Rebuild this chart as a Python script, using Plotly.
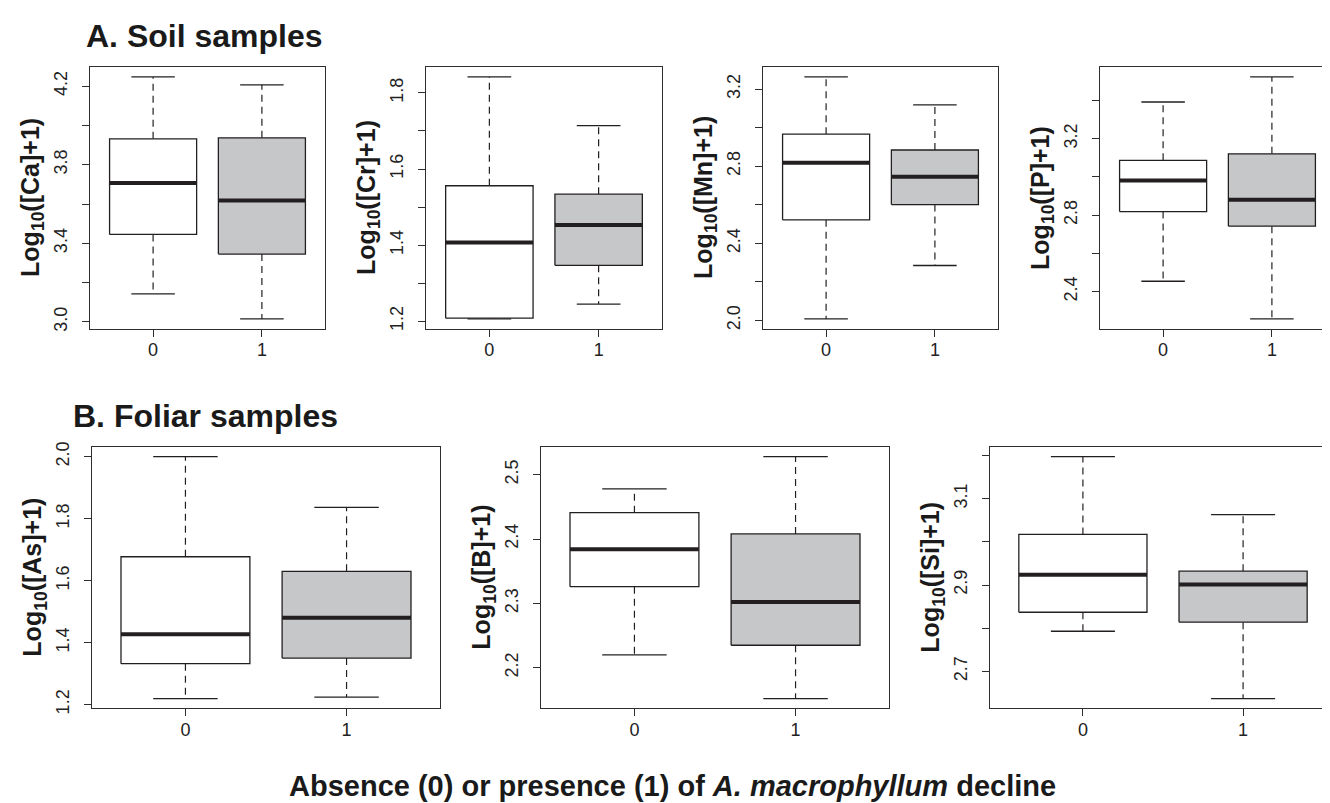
import plotly.graph_objects as go

# ---------------- data ----------------
groups = ["0", "1"]
elements = ["Ca", "Cr", "Mn", "P", "As", "B", "Si"]

# five-number summaries: [lower whisker, Q1, median, Q3, upper whisker]
ca_absent = [3.143, 3.445, 3.707, 3.932, 4.247]
ca_present = [3.015, 3.345, 3.618, 3.937, 4.207]
cr_absent = [1.206, 1.208, 1.407, 1.556, 1.842]
cr_present = [1.245, 1.347, 1.453, 1.534, 1.714]
mn_absent = [2.008, 2.522, 2.818, 2.966, 3.263]
mn_present = [2.285, 2.601, 2.745, 2.884, 3.118]
p_absent = [2.455, 2.819, 2.982, 3.087, 3.392]
p_present = [2.258, 2.743, 2.881, 3.121, 3.523]
as_absent = [1.219, 1.332, 1.427, 1.677, 2.000]
as_present = [1.224, 1.350, 1.480, 1.630, 1.836]
b_absent = [2.220, 2.326, 2.384, 2.441, 2.478]
b_present = [2.152, 2.235, 2.302, 2.408, 2.528]
si_absent = [2.793, 2.837, 2.924, 3.017, 3.197]
si_present = [2.637, 2.814, 2.901, 2.932, 3.063]

ca_ticks = [3.0, 3.2, 3.4, 3.6, 3.8, 4.0, 4.2]
ca_ticklabels = ["3.0", "", "3.4", "", "3.8", "", "4.2"]
cr_ticks = [1.2, 1.3, 1.4, 1.5, 1.6, 1.7, 1.8]
cr_ticklabels = ["1.2", "", "1.4", "", "1.6", "", "1.8"]
mn_ticks = [2.0, 2.2, 2.4, 2.6, 2.8, 3.0, 3.2]
mn_ticklabels = ["2.0", "", "2.4", "", "2.8", "", "3.2"]
p_ticks = [2.4, 2.6, 2.8, 3.0, 3.2, 3.4]
p_ticklabels = ["2.4", "", "2.8", "", "3.2", ""]
as_ticks = [1.2, 1.4, 1.6, 1.8, 2.0]
as_ticklabels = ["1.2", "1.4", "1.6", "1.8", "2.0"]
b_ticks = [2.2, 2.3, 2.4, 2.5]
b_ticklabels = ["2.2", "2.3", "2.4", "2.5"]
si_ticks = [2.7, 2.8, 2.9, 3.0, 3.1, 3.2]
si_ticklabels = ["2.7", "", "2.9", "", "3.1", ""]

section_titles = ["A. Soil samples", "B. Foliar samples"]
x_title = "Absence (0) or presence (1) of <i>A. macrophyllum</i> decline"

panel_stats = [
    (ca_absent, ca_present), (cr_absent, cr_present), (mn_absent, mn_present),
    (p_absent, p_present), (as_absent, as_present), (b_absent, b_present),
    (si_absent, si_present),
]
panel_ticks = [
    (ca_ticks, ca_ticklabels), (cr_ticks, cr_ticklabels), (mn_ticks, mn_ticklabels),
    (p_ticks, p_ticklabels), (as_ticks, as_ticklabels), (b_ticks, b_ticklabels),
    (si_ticks, si_ticklabels),
]

# ---------------- style / layout ----------------
W, H = 1330, 803
# plot frames in pixels: (left, right, top, bottom)
frames = [
    (82, 317, 55, 320), (418, 654, 55, 320), (755, 990, 55, 320), (1092, 1327, 55, 320),
    (84, 432, 440, 705), (533, 881, 440, 705), (982, 1328, 440, 705),
]
fills = ["#ffffff", "#c6c7c9"]
ink = "#231f20"
frame_col = "#2e2e2e"
FONT = "Liberation Sans, Arial, Helvetica, sans-serif"
boxwex = 0.8
staple = 0.4

fig = go.Figure()
layout = dict(
    width=W, height=H, margin=dict(l=0, r=0, t=0, b=0),
    paper_bgcolor="white", plot_bgcolor="white", showlegend=False,
    font=dict(family=FONT, color="#222222", size=18),
)
annotations = []

for i, (stats_pair, (tv, tt), fr) in enumerate(zip(panel_stats, panel_ticks, frames)):
    n = i + 1
    xa = "x" if n == 1 else f"x{n}"
    ya = "y" if n == 1 else f"y{n}"
    left, right, top, bottom = fr

    for gi, st in enumerate(stats_pair):
        c = gi + 1
        lo, q1, med, q3, hi = st
        hw = boxwex / 2
        # whiskers (dashed)
        fig.add_trace(go.Scatter(
            x=[c, c, None, c, c], y=[q3, hi, None, q1, lo], xaxis=xa, yaxis=ya,
            mode="lines", line=dict(color=ink, width=1.2, dash="7px,5px"),
            hoverinfo="skip"))
        # staples
        fig.add_trace(go.Scatter(
            x=[c - staple / 2, c + staple / 2, None, c - staple / 2, c + staple / 2],
            y=[hi, hi, None, lo, lo], xaxis=xa, yaxis=ya,
            mode="lines", line=dict(color=ink, width=1.3), hoverinfo="skip"))
        # box
        fig.add_trace(go.Scatter(
            x=[c - hw, c + hw, c + hw, c - hw, c - hw], y=[q1, q1, q3, q3, q1],
            xaxis=xa, yaxis=ya, mode="lines", fill="toself", fillcolor=fills[gi],
            line=dict(color=ink, width=1.3), hoverinfo="skip"))
        # median
        fig.add_trace(go.Scatter(
            x=[c - hw, c + hw], y=[med, med], xaxis=xa, yaxis=ya,
            mode="lines", line=dict(color=ink, width=4), hoverinfo="skip"))

    dmin = min(s[0] for s in stats_pair)
    dmax = max(s[4] for s in stats_pair)
    pad = 0.04 * (dmax - dmin)

    axis_common = dict(
        showline=True, mirror=True, linecolor=frame_col, linewidth=1.3,
        showgrid=False, zeroline=False, ticks="outside", ticklen=7,
        tickcolor=frame_col, tickwidth=1.2,
        tickfont=dict(family=FONT, size=18, color="#222222"),
    )
    layout["xaxis" if n == 1 else f"xaxis{n}"] = dict(
        axis_common, domain=[left / W, right / W],
        anchor=ya, range=[0.42, 2.58], tickmode="array",
        tickvals=[1, 2], ticktext=groups, ticklabelstandoff=-2,
    )
    layout["yaxis" if n == 1 else f"yaxis{n}"] = dict(
        axis_common, domain=[1 - bottom / H, 1 - top / H],
        anchor=xa, range=[dmin - pad, dmax + pad], tickmode="array",
        tickvals=tv, ticktext=tt, tickangle=-90, ticklabelstandoff=8,
    )
    annotations.append(dict(
        text=f"<b>Log<sub>10</sub>([{elements[i]}]+1)</b>",
        xref="paper", yref="paper", x=(left - 58) / W, y=1 - (top + bottom) / 2 / H,
        xanchor="center", yanchor="middle", textangle=-90, showarrow=False,
        font=dict(family=FONT, size=25, color="#1a1a1a"),
    ))

annotations.append(dict(
    text=f"<b>{section_titles[0]}</b>", xref="paper", yref="paper",
    x=76 / W, y=1 - 23 / H, xanchor="left", yanchor="middle", showarrow=False,
    font=dict(family=FONT, size=32, color="#1a1a1a")))
annotations.append(dict(
    text=f"<b>{section_titles[1]}</b>", xref="paper", yref="paper",
    x=63 / W, y=1 - 409 / H, xanchor="left", yanchor="middle", showarrow=False,
    font=dict(family=FONT, size=32, color="#1a1a1a")))
annotations.append(dict(
    text=f"<b>{x_title}</b>", xref="paper", yref="paper",
    x=664 / W, y=1 - 784 / H, xanchor="center", yanchor="middle", showarrow=False,
    font=dict(family=FONT, size=29, color="#1a1a1a")))

layout["annotations"] = annotations
fig.update_layout(**layout)
fig.write_html("out.html")
